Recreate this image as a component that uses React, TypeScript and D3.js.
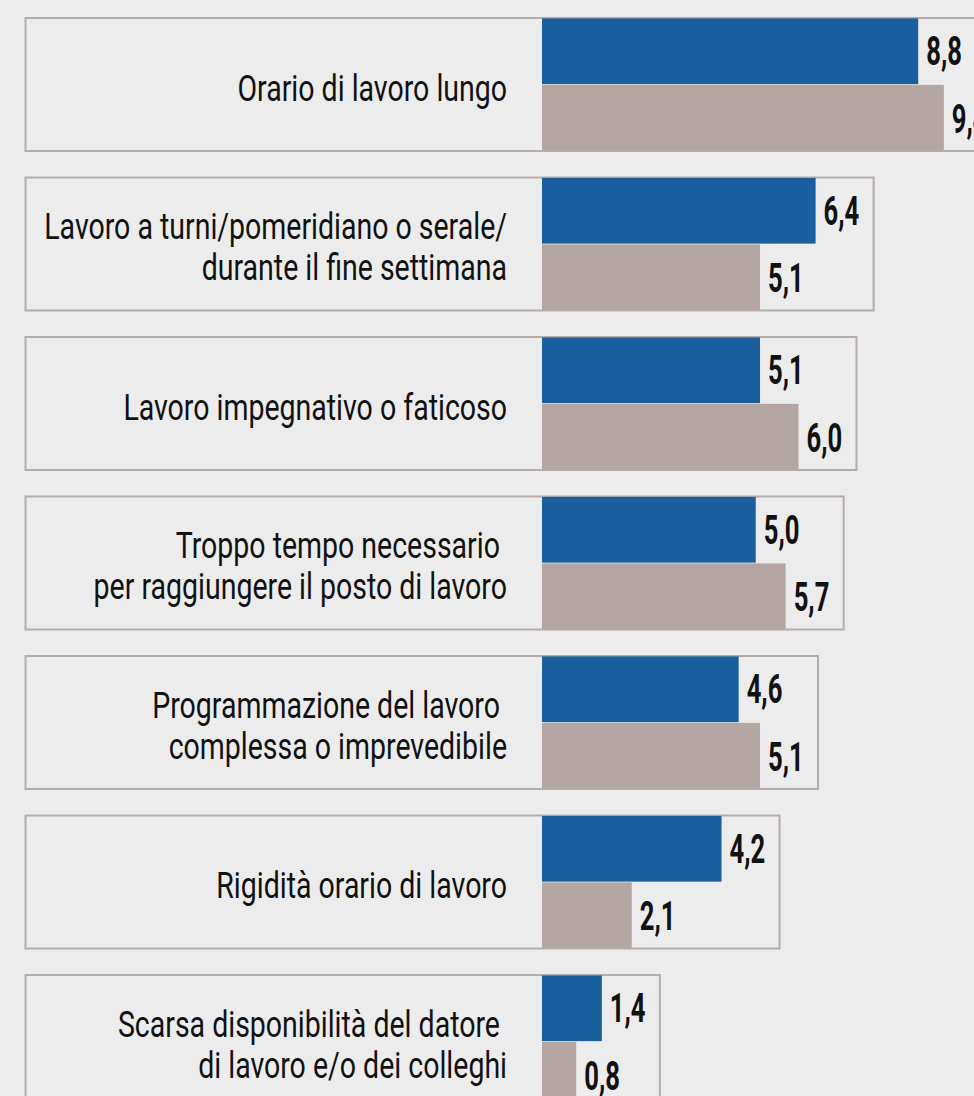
import React from "react";
import * as d3 from "d3";

const categories: string[][] = [
  ["Orario di lavoro lungo"],
  ["Lavoro a turni/pomeridiano o serale/", "durante il fine settimana"],
  ["Lavoro impegnativo o faticoso"],
  ["Troppo tempo necessario ", "per raggiungere il posto di lavoro"],
  ["Programmazione del lavoro ", "complessa o imprevedibile"],
  ["Rigidità orario di lavoro"],
  ["Scarsa disponibilità del datore ", "di lavoro e/o dei colleghi"],
];
const seriesBlue: number[] = [8.8, 6.4, 5.1, 5.0, 4.6, 4.2, 1.4];
const seriesGray: number[] = [9.4, 5.1, 6.0, 5.7, 5.1, 2.1, 0.8];

const W = 974;
const H = 1096;
const BG = "#ececec";
const BLUE = "#1a5f9e";
const GRAY = "#b4a7a3";
const BORDER = "#b7aca8";

const locale = d3.formatLocale({ decimal: ",", thousands: ".", grouping: [3], currency: ["€", ""] });
const fmt = locale.format(".1f");

export default function App() {
  const ids = categories.map((_, i) => String(i));
  const y = d3.scaleBand<string>().domain(ids).range([18, 1108]).paddingInner(26.5 / 159.5).paddingOuter(0);
  const x = d3.scaleLinear().domain([0, 10]).range([542, 542 + 427.5]);
  const sub = d3.scaleBand<string>().domain(["a", "b"]).range([0, y.bandwidth()]).paddingInner(0.011).paddingOuter(0.006);

  const boxLeft = 25.5;
  const labelRight = 507;
  const catScale = 0.77;
  const valScale = 0.64;

  return (
    <div style={{ position: "fixed", left: 0, top: 0, width: W, height: H, overflow: "hidden", background: BG }}>
      <svg width={W} height={H} style={{ display: "block" }}>
        <rect x={0} y={0} width={W} height={H} fill={BG} />
        {ids.map((id, i) => {
          const top = y(id)!;
          const bh = y.bandwidth();
          const c = top + bh / 2;
          const maxV = Math.max(seriesBlue[i], seriesGray[i]);
          const boxRight = x(maxV) + 58;
          const lines = categories[i];
          const baselines =
            lines.length === 1 ? [c + 16] : lines.map((_, k) => c - 5 + k * 41);
          const vals = [
            { key: "a", v: seriesBlue[i], color: BLUE, dy: 14 },
            { key: "b", v: seriesGray[i], color: GRAY, dy: 15 },
          ];
          return (
            <g key={id}>
              <rect
                x={boxLeft}
                y={top}
                width={boxRight - boxLeft}
                height={bh}
                fill={BG}
                stroke={BORDER}
                strokeWidth={2}
              />
              {vals.map((d) => {
                const by = top + sub(d.key)!;
                const sh = sub.bandwidth();
                return (
                  <g key={d.key}>
                    <rect x={x(0)} y={by} width={x(d.v) - x(0)} height={sh} fill={d.color} />
                    <g transform={`translate(${x(d.v) + 8},${by + sh / 2 + d.dy}) scale(${valScale},1)`}>
                      <text
                        x={0}
                        y={0}
                        fontFamily="Roboto, 'Liberation Sans', sans-serif"
                        fontWeight={700}
                        fontSize={40}
                        fill="#111"
                      >
                        {fmt(d.v)}
                      </text>
                    </g>
                  </g>
                );
              })}
              {lines.map((ln, k) => (
                <g key={k} transform={`translate(${labelRight},${baselines[k]}) scale(${catScale},1)`}>
                  <text
                    x={0}
                    y={0}
                    textAnchor="end"
                    fontFamily="Roboto, 'Liberation Sans', sans-serif"
                    fontSize={37}
                    fill="#111"
                    style={{ whiteSpace: "pre" }}
                  >
                    {ln}
                  </text>
                </g>
              ))}
            </g>
          );
        })}
      </svg>
    </div>
  );
}
